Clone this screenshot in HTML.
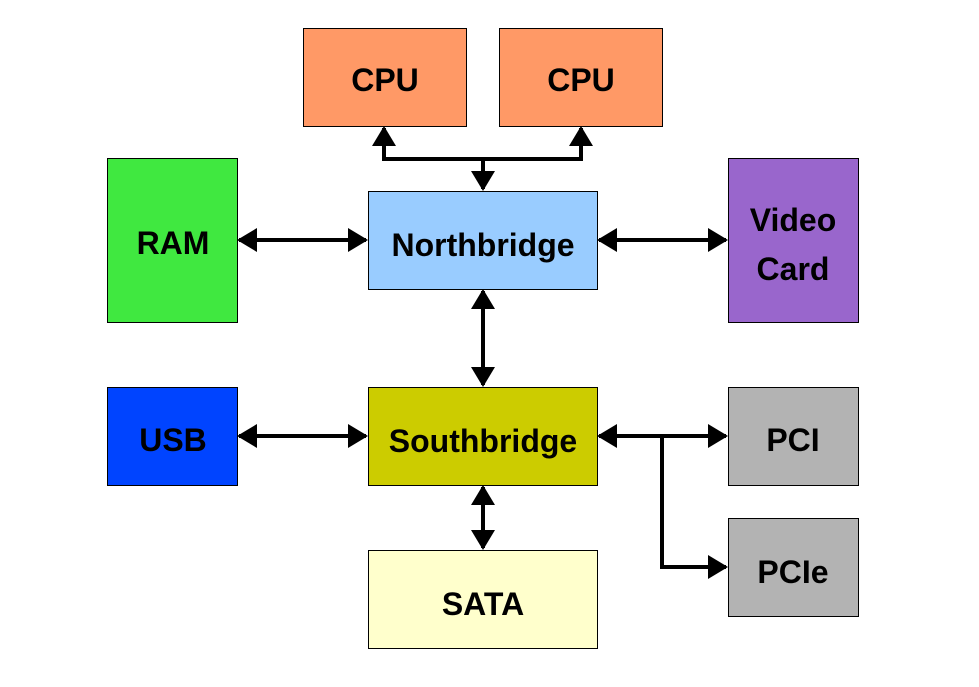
<!DOCTYPE html>
<html><head><meta charset="utf-8"><style>
html,body{margin:0;padding:0;background:#fff;}
svg{display:block;}
text{font-family:"Liberation Sans",Arial,sans-serif;font-weight:bold;font-size:32px;fill:#000;text-anchor:middle;}
</style></head><body>
<svg width="979" height="687" viewBox="0 0 979 687" xmlns="http://www.w3.org/2000/svg">
<defs>
<marker id="a" markerWidth="5" markerHeight="6" refX="4.5" refY="3" orient="auto-start-reverse" markerUnits="strokeWidth">
<path d="M0,0 L5,3 L0,6 z" fill="#000"/>
</marker>
</defs>
<g stroke="#000" stroke-width="1">
<rect x="303.5" y="28.5" width="163" height="98" fill="#FF9966"/>
<rect x="499.5" y="28.5" width="163" height="98" fill="#FF9966"/>
<rect x="107.5" y="158.5" width="130" height="164" fill="#40E840"/>
<rect x="368.5" y="191.5" width="229" height="98" fill="#99CCFF"/>
<rect x="728.5" y="158.5" width="130" height="164" fill="#9966CC"/>
<rect x="107.5" y="387.5" width="130" height="98" fill="#0044FF"/>
<rect x="368.5" y="387.5" width="229" height="98" fill="#CCCC00"/>
<rect x="728.5" y="387.5" width="130" height="98" fill="#B3B3B3"/>
<rect x="728.5" y="518.5" width="130" height="98" fill="#B3B3B3"/>
<rect x="368.5" y="550.5" width="229" height="98" fill="#FFFFCC"/>
</g>
<g stroke="#000" stroke-width="4" fill="none">
<path d="M384,128 V159 H581 V128" marker-start="url(#a)" marker-end="url(#a)"/>
<path d="M483,159 V189" marker-end="url(#a)"/>
<path d="M239,240 H366" marker-start="url(#a)" marker-end="url(#a)"/>
<path d="M599,240 H726" marker-start="url(#a)" marker-end="url(#a)"/>
<path d="M483,291 V385" marker-start="url(#a)" marker-end="url(#a)"/>
<path d="M239,436 H366" marker-start="url(#a)" marker-end="url(#a)"/>
<path d="M599,436 H726" marker-start="url(#a)" marker-end="url(#a)"/>
<path d="M662,436 V567 H726" marker-end="url(#a)"/>
<path d="M483,487 V548" marker-start="url(#a)" marker-end="url(#a)"/>
</g>
<text x="385" y="91">CPU</text>
<text x="581" y="91">CPU</text>
<text x="173" y="254">RAM</text>
<text x="483" y="256">Northbridge</text>
<text x="793" y="231">Video</text>
<text x="793" y="280">Card</text>
<text x="173" y="451">USB</text>
<text x="483" y="452">Southbridge</text>
<text x="793" y="451">PCI</text>
<text x="793" y="583">PCIe</text>
<text x="483" y="615">SATA</text>
</svg>
</body></html>
